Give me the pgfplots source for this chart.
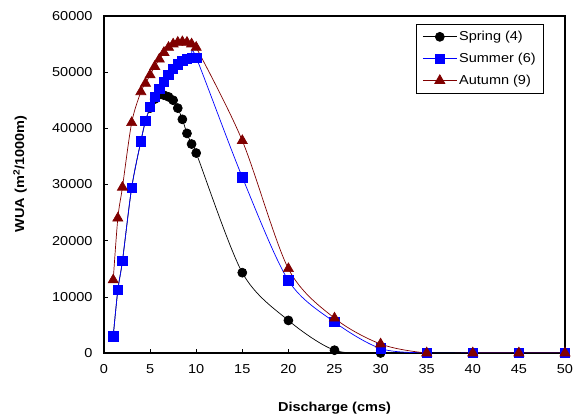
\documentclass[border=0pt]{standalone}
\usepackage{pgfplots}
\pgfplotsset{compat=1.18}
\usepackage{fontspec}
\setmainfont{Liberation Sans}[FakeStretch=1.12]
\definecolor{autumn}{RGB}{128,0,0}
\begin{document}
\begin{tikzpicture}
\useasboundingbox (-104bp,-65bp) rectangle (473bp,353bp);
\begin{axis}[
  at={(0,0)}, anchor=south west,
  scale only axis, width=461bp, height=337bp,
  xmin=0, xmax=50, ymin=0, ymax=60000,
  xtick={0,5,...,50}, ytick={0,10000,...,60000},
  scaled y ticks=false,
  /pgf/number format/1000 sep={},
  /pgf/number format/assume math mode=true,
  tick align=inside, xtick pos=bottom, ytick pos=left,
  major tick length=4bp,
  axis line style={line width=1.4bp},
  tick style={black, line width=0.6bp},
  ticklabel style={font=\fontsize{13}{15}\selectfont},
  xticklabel style={yshift=-8bp},
  yticklabel style={xshift=-8bp},
  xlabel={\textbf{Discharge (cms)}},
  ylabel={\textbf{WUA (m\textsuperscript{2}/1000m)}},
  label style={font=\fontsize{13}{15}\selectfont},
  xlabel style={at={(axis description cs:0.5,-0.163)}, anchor=center},
  ylabel style={at={(axis description cs:-0.182,0.531)}, anchor=center},
  legend style={at={(rel axis cs:0.9545,0.976)}, anchor=north east,
    font=\fontsize{13}{15}\selectfont, draw=black, line width=0.6bp,
    inner xsep=6bp, inner ysep=5bp, row sep=7bp,
    cells={anchor=west}},
  legend image code/.code={\draw[#1] plot coordinates {(0bp,0bp) (17bp,0bp) (34bp,0bp)};},
  legend image post style={mark repeat=2, mark phase=2},
  every axis plot/.append style={line width=0.7bp, smooth, tension=0.5},
]
\addplot[black, mark=*, mark size=4.5bp, mark options={fill=black}] coordinates {
(1,3000)(1.5,11200)(2,16400)(3,29400)(4,37700)(4.5,41300)(5,43600)(5.5,45200)(6,46000)
(6.5,45900)(7,45600)(7.5,45000)(8,43600)(8.5,41600)(9,39100)(9.5,37200)(10,35600)
(15,14300)(20,5800)(25,500)(30,0)(35,0)(40,0)(45,0)(50,0)};
\addlegendentry{Spring (4)}
\addplot[blue, mark=square*, mark size=4.7bp, mark options={fill=blue}] coordinates {
(1,3000)(1.5,11200)(2,16400)(3,29400)(4,37700)(4.5,41300)(5,43800)(5.5,45600)(6,47000)
(6.5,48300)(7,49500)(7.5,50600)(8,51400)(8.5,52000)(9,52400)(9.5,52600)(10,52600)
(15,31300)(20,12900)(25,5500)(30,800)(35,0)(40,0)(45,0)(50,0)};
\addlegendentry{Summer (6)}
\addplot[autumn, mark=triangle*, mark size=5.8bp, mark options={fill=autumn}] coordinates {
(1,13000)(1.5,24000)(2,29500)(3,41000)(4,46500)(4.5,48000)(5,49500)(5.5,51000)(6,52300)
(6.5,53500)(7,54400)(7.5,55000)(8,55300)(8.5,55400)(9,55300)(9.5,55000)(10,54400)
(15,37800)(20,15000)(25,6200)(30,1600)(35,0)(40,0)(45,0)(50,0)};
\addlegendentry{Autumn (9)}
\end{axis}
\end{tikzpicture}
\end{document}
